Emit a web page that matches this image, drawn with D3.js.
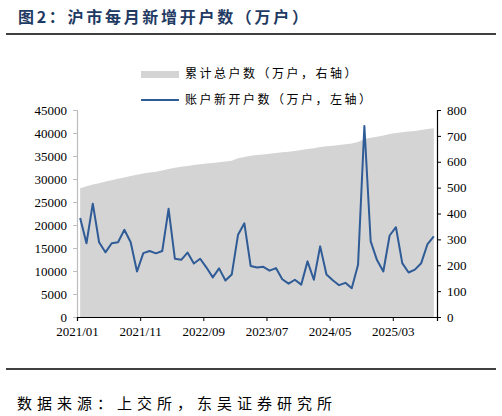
<!DOCTYPE html>
<html lang="zh">
<head>
<meta charset="UTF-8">
<title>沪市每月新增开户数</title>
<script src="https://d3js.org/d3.v7.min.js"></script>
<style>
  body { margin: 0; background: #fff; }
  .num { font-family: "Liberation Serif", "Times New Roman", serif; font-size: 13px; fill: #000; }
  .cn { font-family: "Noto Sans CJK SC", sans-serif; }
</style>
</head>
<body>
<script>
// monthly, 2021/01 .. 2025/09
var months = [];
for (var y = 2021; y <= 2025; y++) {
    for (var m = 1; m <= 12; m++) {
        if (y === 2025 && m > 9) break;
        months.push(y + '/' + (m < 10 ? '0' + m : m));
    }
}

// 账户新开户数 (drawn against the 0-800 axis)
var newAccounts = [383, 285, 438, 289, 250, 285, 289, 337, 289, 176,
                   247, 255, 246, 255, 418, 225, 221, 249, 207, 225,
                   191, 153, 188, 141, 164, 318, 362, 197, 191, 194,
                   179, 189, 146, 129, 144, 125, 215, 144, 273, 164,
                   142, 123, 132, 111, 202, 738, 292, 220, 176, 315,
                   347, 208, 172, 183, 208, 282, 312];

// 累计总户数 (drawn against the 0-45000 axis)
var totalAccounts = [28000, 28450, 28800, 29100, 29450, 29750, 30050, 30350, 30650, 30950,
                     31200, 31400, 31600, 31850, 32150, 32450, 32650, 32850, 33050, 33200,
                     33350, 33500, 33650, 33800, 33950, 34500, 34800, 35050, 35200, 35350,
                     35500, 35650, 35800, 35950, 36100, 36300, 36500, 36700, 36950, 37100,
                     37250, 37400, 37550, 37700, 38050, 38700, 38950, 39200, 39450, 39800,
                     40000, 40150, 40300, 40450, 40650, 40850, 41050];

var leftTicks = d3.range(0, 45001, 5000);
var rightTicks = d3.range(0, 801, 100);
var xTickIdx = [0, 10, 20, 30, 40, 50];

var w = 502, h = 416;
var plotL = 77, plotR = 437, plotT = 110, plotB = 317;

var svg = d3.select('body').append('svg')
    .attr('width', w)
    .attr('height', h);

// title + rules
svg.append('text')
    .attr('class', 'cn')
    .attr('x', 18).attr('y', 23)
    .attr('font-size', 16).attr('font-weight', 'bold')
    .attr('letter-spacing', 2.7)
    .attr('fill', '#1f3a63')
    .text('图2：沪市每月新增开户数（万户）');
svg.append('line').attr('x1', 6).attr('x2', 496).attr('y1', 34).attr('y2', 34)
    .attr('stroke', '#000').attr('stroke-width', 1.6);
svg.append('line').attr('x1', 6).attr('x2', 496).attr('y1', 369).attr('y2', 369)
    .attr('stroke', '#000').attr('stroke-width', 1.6);
svg.append('text')
    .attr('class', 'cn')
    .attr('x', 17).attr('y', 409)
    .attr('font-size', 15)
    .attr('letter-spacing', 5)
    .attr('fill', '#000')
    .text('数据来源：上交所，东吴证券研究所');

// scales
var x = d3.scaleLinear().domain([0, months.length]).range([plotL, plotR]);
var yL = d3.scaleLinear().domain([0, 45000]).range([plotB, plotT]);
var yR = d3.scaleLinear().domain([0, 800]).range([plotB, plotT]);

// area
var area = d3.area()
    .x(function(d, i) { return x(i + 0.5); })
    .y0(yL(0))
    .y1(function(d) { return yL(d); });
svg.append('path')
    .datum(totalAccounts)
    .attr('d', area)
    .attr('fill', '#d4d4d4');

// line
var line = d3.line()
    .x(function(d, i) { return x(i + 0.5); })
    .y(function(d) { return yR(d); });
svg.append('path')
    .datum(newAccounts)
    .attr('d', line)
    .attr('fill', 'none')
    .attr('stroke', '#2f5b96')
    .attr('stroke-width', 2)
    .attr('stroke-linejoin', 'round');

// axes
var gl = svg.append('g')
    .attr('transform', 'translate(' + plotL + ',0)')
    .call(d3.axisLeft(yL).tickValues(leftTicks).tickSize(4).tickPadding(6).tickFormat(d3.format('d')));
gl.select('.domain').attr('stroke', '#bdbdbd').attr('stroke-width', 1.2);
gl.selectAll('.tick line').attr('stroke', '#bdbdbd');
gl.selectAll('.tick text').attr('class', 'num');

var gr = svg.append('g')
    .attr('transform', 'translate(' + plotR + ',0)')
    .call(d3.axisRight(yR).tickValues(rightTicks).tickSize(4).tickPadding(6));
gr.select('.domain').attr('stroke', '#000').attr('stroke-width', 1.2);
gr.selectAll('.tick line').attr('stroke', '#000');
gr.selectAll('.tick text').attr('class', 'num');

var gx = svg.append('g')
    .attr('transform', 'translate(0,' + plotB + ')')
    .call(d3.axisBottom(x).tickValues(xTickIdx).tickSize(4).tickPadding(6)
        .tickFormat(function(d) { return months[d]; }));
gx.select('.domain').attr('stroke', '#000').attr('stroke-width', 1.2);
gx.selectAll('.tick line').attr('stroke', '#000');
gx.selectAll('.tick text').attr('class', 'num');

// legend
var lg = svg.append('g');
lg.append('rect').attr('x', 141).attr('y', 71).attr('width', 38).attr('height', 7).attr('fill', '#d4d4d4');
lg.append('text').attr('class', 'cn').attr('x', 185).attr('y', 78)
    .attr('font-size', 12).attr('letter-spacing', 2.5)
    .text('累计总户数（万户，右轴）');
lg.append('line').attr('x1', 141).attr('x2', 179).attr('y1', 100).attr('y2', 100)
    .attr('stroke', '#2f5b96').attr('stroke-width', 2);
lg.append('text').attr('class', 'cn').attr('x', 185).attr('y', 104)
    .attr('font-size', 12).attr('letter-spacing', 2.5)
    .text('账户新开户数（万户，左轴）');
</script>
</body>
</html>
